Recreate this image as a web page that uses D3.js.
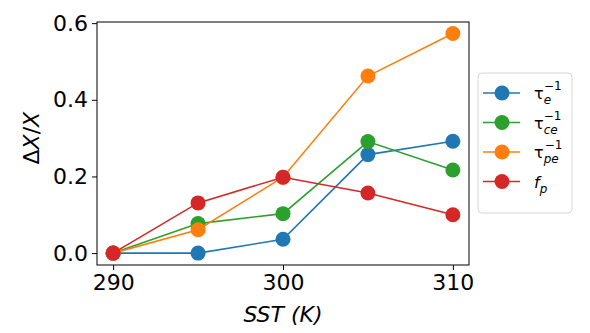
<!DOCTYPE html>
<html lang="en">
<head>
<meta charset="UTF-8" />
<script src="https://d3js.org/d3.v7.min.js"></script>
<style>
  body { margin: 0; background: white; }
  text { font-family: "DejaVu Sans", sans-serif; }
</style>
</head>
<body>
<div id="chart"></div>
<script>
  // data
  let sst = [290, 295, 300, 305, 310];
  let tauE = [0, 0, 0.036, 0.257, 0.292];
  let tauCe = [0, 0.077, 0.103, 0.291, 0.217];
  let tauPe = [0, 0.061, 0.198, 0.462, 0.573];
  let fP = [0, 0.131, 0.198, 0.157, 0.100];
  let xTicks = [290, 300, 310];
  let yTicks = [0.0, 0.2, 0.4, 0.6];

  let series = [
    {vals: tauE, color: "#1f77b4", base: "τ", sub: "e", sup: "−1"},
    {vals: tauCe, color: "#2ca02c", base: "τ", sub: "ce", sup: "−1"},
    {vals: tauPe, color: "#ff7f0e", base: "τ", sub: "pe", sup: "−1"},
    {vals: fP, color: "#d62728", base: "f", sub: "p", sup: null}
  ];

  let W = 590, H = 333;
  let margin = {top: 22, left: 97, right: 121, bottom: 68};
  let width = W - margin.left - margin.right,
      height = H - margin.top - margin.bottom;

  let svg = d3.select("#chart").append("svg")
    .attr("width", W).attr("height", H);
  let g = svg.append("g")
    .attr("transform", "translate(" + margin.left + "," + margin.top + ")");

  let x = d3.scaleLinear().domain([289.05, 310.95]).range([0, width]);
  let y = d3.scaleLinear().domain([-0.031, 0.603]).range([height, 0]);

  // axes
  let xAxis = g.append("g")
    .attr("transform", "translate(0," + height + ")")
    .call(d3.axisBottom(x).tickValues(xTicks).tickFormat(d3.format("d")).tickSizeOuter(0).tickSize(5).tickPadding(4));
  let yAxis = g.append("g")
    .call(d3.axisLeft(y).tickValues(yTicks).tickFormat(d3.format(".1f")).tickSizeOuter(0).tickSize(5).tickPadding(4));
  [xAxis, yAxis].forEach(a => {
    a.select(".domain").remove();
    a.selectAll("text").style("font-size", "22px").style("fill", "#000");
    a.selectAll("line").attr("stroke", "#000");
  });

  // frame
  g.append("rect").attr("width", width).attr("height", height)
    .attr("fill", "none").attr("stroke", "#000").attr("stroke-width", 1);

  let line = d3.line()
    .x((d, i) => x(sst[i]))
    .y(d => y(d));

  series.forEach(s => {
    g.append("path").datum(s.vals)
      .attr("d", line).attr("fill", "none")
      .attr("stroke", s.color).attr("stroke-width", 1.6);
    g.selectAll(null).data(s.vals).enter().append("circle")
      .attr("cx", (d, i) => x(sst[i]))
      .attr("cy", d => y(d))
      .attr("r", 7.5)
      .attr("fill", s.color);
  });

  // axis labels
  let xl = svg.append("text")
    .attr("x", margin.left + width / 2).attr("y", 322)
    .attr("text-anchor", "middle").style("font-size", "22px").style("font-style", "italic");
  xl.append("tspan").text("SST ");
  xl.append("tspan").text("(");
  xl.append("tspan").text("K");
  xl.append("tspan").text(")");

  let yl = svg.append("text")
    .attr("transform", "translate(39," + (margin.top + y(0.3)) + ") rotate(-90)")
    .attr("text-anchor", "middle").style("font-size", "22px");
  yl.append("tspan").text("Δ");
  yl.append("tspan").style("font-style", "italic").text("X");
  yl.append("tspan").text("/");
  yl.append("tspan").style("font-style", "italic").text("X");

  // legend
  let lg = svg.append("g").attr("transform", "translate(478,73)");
  lg.append("rect").attr("width", 94).attr("height", 140).attr("rx", 4)
    .attr("fill", "white").attr("fill-opacity", 0.8)
    .attr("stroke", "#d6d6d6").attr("stroke-width", 1);
  series.forEach((s, i) => {
    let cy = 20 + i * 29.5;
    lg.append("line").attr("x1", 5).attr("x2", 42).attr("y1", cy).attr("y2", cy)
      .attr("stroke", s.color).attr("stroke-width", 1.6);
    lg.append("circle").attr("cx", 24).attr("cy", cy).attr("r", 7.5).attr("fill", s.color);
    let t = lg.append("text").attr("x", 56).attr("y", cy + 6).style("font-size", "16px");
    t.append("tspan").style("font-style", s.base === "f" ? "italic" : "normal").text(s.base);
    let sub = t.append("tspan").attr("dy", 5).style("font-size", "12px").style("font-style", "italic").text(s.sub);
    if (s.sup) {
      let subW = s.sub.length * 7;
      t.append("tspan").attr("dx", -subW).attr("dy", -14).style("font-size", "12px").text(s.sup);
    }
  });
</script>
</body>
</html>
